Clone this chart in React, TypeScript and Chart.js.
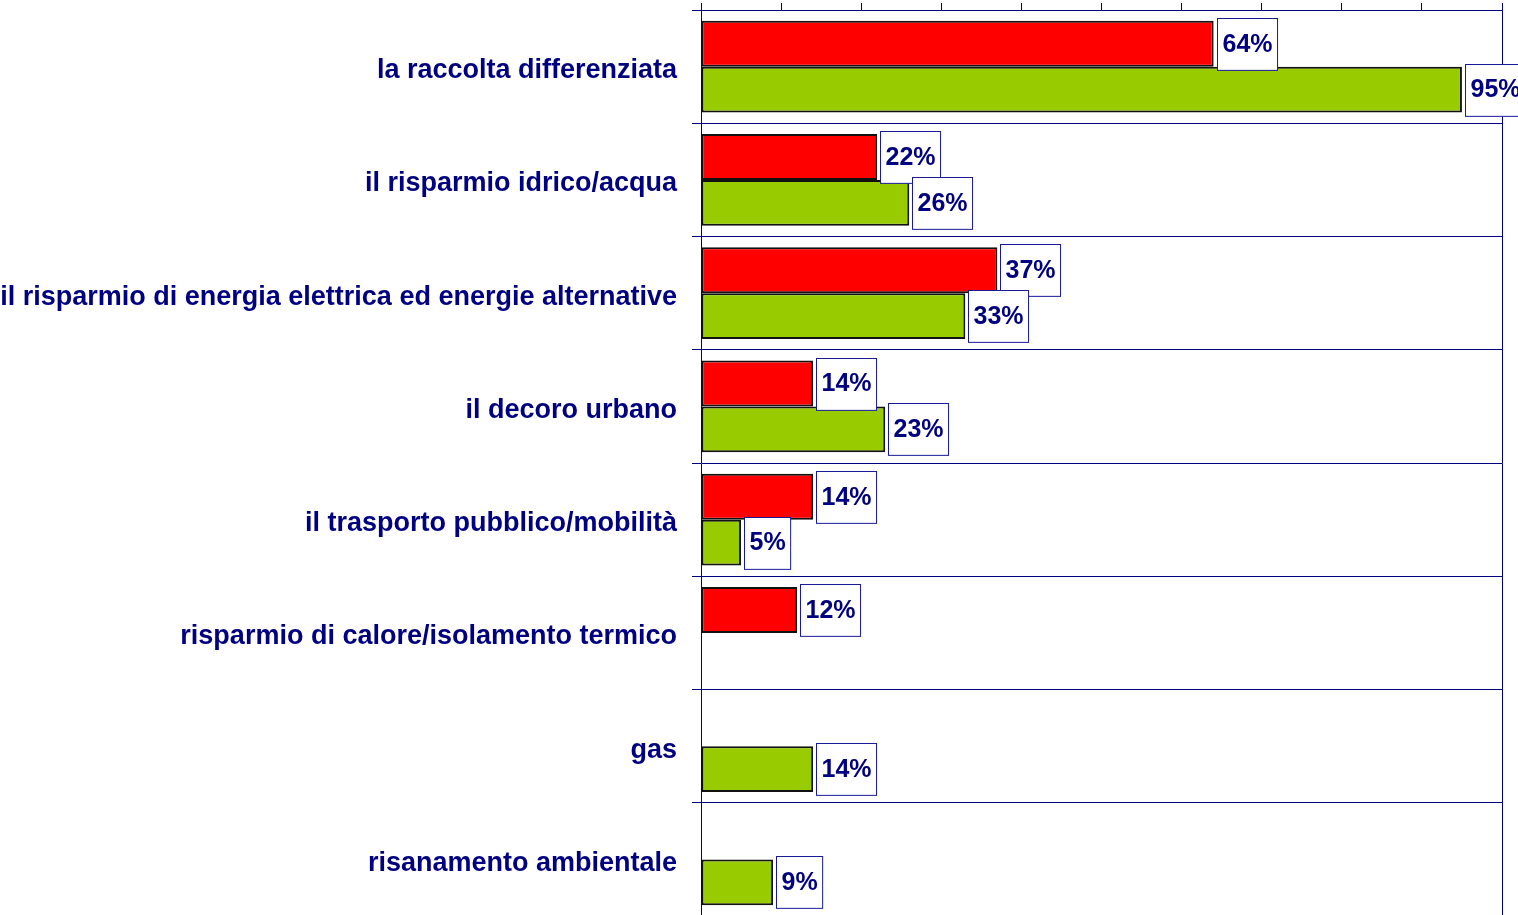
import React, { useEffect, useRef } from "react";
import { Chart, registerables } from "chart.js";

Chart.register(...registerables);

const categories = [
  "la raccolta differenziata",
  "il risparmio idrico/acqua",
  "il risparmio di energia elettrica ed energie alternative",
  "il decoro urbano",
  "il trasporto pubblico/mobilità",
  "risparmio di calore/isolamento termico",
  "gas",
  "risanamento ambientale",
];

const seriesRed: (number | null)[] = [64, 22, 37, 14, 14, 12, null, null];
const seriesGreen: (number | null)[] = [95, 26, 33, 23, 5, null, 14, 9];

const NAVY = "#000080";
const FONT = '"Liberation Sans", Arial, sans-serif';

const valueBoxPlugin = {
  id: "valueBoxes",
  afterDatasetsDraw(chart: any) {
    const ctx = chart.ctx;
    ctx.save();
    ctx.font = `bold 25px ${FONT}`;
    ctx.textBaseline = "middle";
    ctx.textAlign = "left";
    chart.data.datasets.forEach((ds: any, di: number) => {
      const meta = chart.getDatasetMeta(di);
      meta.data.forEach((el: any, i: number) => {
        const v = ds.data[i];
        if (v === null || v === undefined) return;
        const text = `${v}%`;
        const tw = ctx.measureText(text).width;
        const h = el.height + 6;
        const w = tw + 10;
        const left = Math.round(el.x) + 3.5;
        const top = Math.round(el.y - h / 2) + 0.5;
        ctx.fillStyle = "#ffffff";
        ctx.fillRect(left, top, w, h);
        ctx.strokeStyle = "#1a1a99";
        ctx.lineWidth = 1;
        ctx.strokeRect(left, top, w, h);
        ctx.fillStyle = NAVY;
        ctx.fillText(text, left + 5, el.y + 1);
      });
    });
    ctx.restore();
  },
};

export default function App() {
  const ref = useRef<HTMLCanvasElement | null>(null);

  useEffect(() => {
    document.body.style.margin = "0";
    document.body.style.overflow = "hidden";
    const canvas = ref.current;
    if (!canvas) return;
    const chart = new Chart(canvas, {
      type: "bar",
      data: {
        labels: categories,
        datasets: [
          {
            label: "A",
            data: seriesRed,
            backgroundColor: "#ff0000",
            borderColor: "#111111",
            borderWidth: 2,
            borderSkipped: false,
          },
          {
            label: "B",
            data: seriesGreen,
            backgroundColor: "#99cc00",
            borderColor: "#111111",
            borderWidth: 2,
            borderSkipped: false,
          },
        ],
      },
      options: {
        indexAxis: "y",
        responsive: false,
        animation: false,
        devicePixelRatio: 1,
        layout: { padding: { top: 0, right: 16, bottom: 9, left: 0 } },
        datasets: {
          bar: { categoryPercentage: 0.81, barPercentage: 1 },
        },
        plugins: {
          legend: { display: false },
          tooltip: { enabled: false },
        },
        scales: {
          x: {
            position: "top",
            min: 0,
            max: 100,
            ticks: { display: false, stepSize: 10 },
            grid: {
              drawOnChartArea: true,
              color: (c: any) =>
                c.tick && c.tick.value === 100 ? NAVY : "rgba(0,0,0,0)",
              tickColor: NAVY,
              tickLength: 7,
              lineWidth: 1,
            },
            border: { display: true, color: NAVY, width: 1 },
            afterFit: (scale: any) => {
              scale.height = 10;
              scale.paddingLeft = 0;
              scale.paddingRight = 0;
            },
          },
          y: {
            position: "left",
            ticks: {
              color: NAVY,
              font: { family: FONT, size: 27, weight: "bold" },
              padding: 15,
              labelOffset: 4,
            },
            grid: {
              offset: true,
              color: NAVY,
              tickColor: NAVY,
              tickLength: 9,
              lineWidth: 1,
            },
            border: { display: true, color: NAVY, width: 1 },
            afterFit: (scale: any) => {
              scale.width = 701;
              scale.paddingTop = 0;
              scale.paddingBottom = 0;
            },
          },
        },
      },
      plugins: [valueBoxPlugin],
    } as any);
    return () => chart.destroy();
  }, []);

  return (
    <div style={{ width: 1518, height: 915, overflow: "hidden", background: "#fff" }}>
      <canvas ref={ref} width={1518} height={925} style={{ display: "block" }} />
    </div>
  );
}
